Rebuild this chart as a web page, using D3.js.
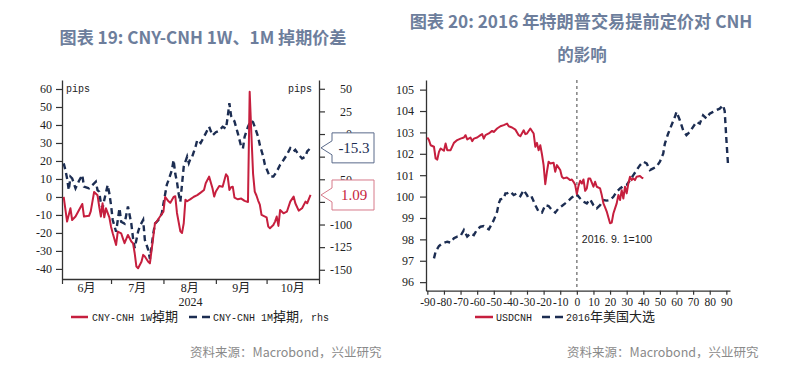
<!DOCTYPE html>
<html><head><meta charset="utf-8">
<script src="https://cdn.jsdelivr.net/npm/d3@7/dist/d3.min.js"></script>
<style>body{margin:0;background:#fff} text{white-space:pre}</style>
</head><body>
<svg id="c" width="800" height="383" xmlns="http://www.w3.org/2000/svg"></svg>
<script>
// ---------- DATA: chart 19 ----------
const w1Dates = ["2024-06-03","2024-06-05","2024-06-07","2024-06-08","2024-06-10","2024-06-14","2024-06-15","2024-06-18","2024-06-19","2024-06-21","2024-06-23","2024-06-24","2024-06-25","2024-06-26","2024-06-27","2024-06-28","2024-06-30",
"2024-07-01","2024-07-02","2024-07-04","2024-07-05","2024-07-07","2024-07-08","2024-07-09","2024-07-11","2024-07-13","2024-07-14","2024-07-15","2024-07-16","2024-07-17","2024-07-19","2024-07-20","2024-07-21","2024-07-23","2024-07-24","2024-07-26","2024-07-27","2024-07-28","2024-07-30",
"2024-08-01","2024-08-02","2024-08-04","2024-08-05","2024-08-07","2024-08-08","2024-08-09","2024-08-11","2024-08-12","2024-08-13","2024-08-14","2024-08-15","2024-08-17","2024-08-19","2024-08-21","2024-08-23","2024-08-25","2024-08-26","2024-08-28","2024-08-30","2024-08-31",
"2024-09-01","2024-09-03","2024-09-05","2024-09-07","2024-09-08","2024-09-09","2024-09-10","2024-09-11","2024-09-12","2024-09-14","2024-09-16","2024-09-18","2024-09-20","2024-09-21","2024-09-22","2024-09-23","2024-09-24","2024-09-25","2024-09-26","2024-09-27","2024-09-28",
"2024-10-01","2024-10-02","2024-10-03","2024-10-05","2024-10-06","2024-10-07","2024-10-08","2024-10-09","2024-10-11","2024-10-13","2024-10-15","2024-10-17","2024-10-18","2024-10-20","2024-10-22","2024-10-24","2024-10-25","2024-10-27"];
const w1Values = [0,-13.7,-6.3,-12.8,-10.9,-3.9,-10.9,-10.5,-8,2.8,1,-5.4,-10.9,-3.5,-11.3,-6.3,-11.3,
-16.5,-20.2,-26.7,-19.3,-20.2,-23,-25.7,-21.1,-24.8,-25.7,-31.3,-38.7,-39.6,-36,-32.2,-33.1,-36,-36.9,-22,-14.6,-13.7,-10.9,
-8.2,0,-2.4,-3.3,0,0.4,-8.9,-19.1,-20,-14.6,-1.5,-2.4,-1.2,0.1,1,2.4,3.9,7.6,11.3,4.8,0.2,
3,6.1,5.7,12.6,11.3,3.9,5.4,5.7,-0.4,-1.3,-0.9,-2.2,-2.8,58.5,35,13,3,0.8,-2,-4.3,-10,
-11.3,-16.5,-17.4,-15.6,-13.7,-10.9,-16.1,-7.3,-9.1,-8.2,-2.6,0.2,-3.5,-7.6,-6.3,-2.6,-3.5,1.09];

const m1Dates = ["2024-06-03","2024-06-04","2024-06-05","2024-06-06","2024-06-07","2024-06-08","2024-06-10","2024-06-12","2024-06-14","2024-06-15","2024-06-18","2024-06-20","2024-06-22","2024-06-23","2024-06-24","2024-06-25","2024-06-26","2024-06-27","2024-06-29","2024-06-30",
"2024-07-01","2024-07-02","2024-07-04","2024-07-05","2024-07-06","2024-07-07","2024-07-09","2024-07-11","2024-07-13","2024-07-14","2024-07-15","2024-07-17","2024-07-18","2024-07-20","2024-07-21","2024-07-23","2024-07-24","2024-07-26","2024-07-27","2024-07-29","2024-07-31",
"2024-08-01","2024-08-03","2024-08-04","2024-08-06","2024-08-07","2024-08-08","2024-08-09","2024-08-10","2024-08-11","2024-08-12","2024-08-13","2024-08-15","2024-08-16","2024-08-17","2024-08-18","2024-08-19","2024-08-20","2024-08-21","2024-08-23","2024-08-26","2024-08-28","2024-08-30",
"2024-09-01","2024-09-03","2024-09-05","2024-09-07","2024-09-08","2024-09-09","2024-09-10","2024-09-12","2024-09-14","2024-09-16","2024-09-17","2024-09-18","2024-09-20","2024-09-21","2024-09-22","2024-09-23","2024-09-24","2024-09-26","2024-09-27","2024-09-29","2024-09-30",
"2024-10-02","2024-10-03","2024-10-05","2024-10-07","2024-10-09","2024-10-11","2024-10-13","2024-10-15","2024-10-17","2024-10-18","2024-10-20","2024-10-22","2024-10-24","2024-10-25","2024-10-27"];
const m1Values = [-32.4,-39.8,-49,-61.9,-47.2,-49,-60,-51.9,-45.3,-58.2,-60,-56.4,-52.7,-61.9,-63.8,-76.6,-82.1,-72.9,-56.4,-65.6,
-78.5,-95,-108,-95,-82,-97,-99,-80,-99,-115,-126,-108,-102,-95,-117,-128,-138,-110,-99,-95,-88,
-77,-56,-51,-39.8,-28.7,-44,-53,-66,-75,-55,-36,-25,-32,-27,-25,-19.5,-14,-6.6,-10,0.7,8,-1.5,
2,3.7,8,6,19,34,20,14,0.7,-14,-16,-3,8,12,14.7,13,8,-3,-12,-25,-34,
-43,-47,-47,-41.6,-34,-28.7,-23,-15.6,-19.3,-17.5,-23,-27,-25,-19.3,-15.3];

const leftTicksL = [60,50,40,30,20,10,0,-10,-20,-30,-40];
const leftTicksR = [50,25,0,-25,-50,-75,-100,-125,-150];
const monthStarts = ["2024-06-02","2024-07-01","2024-08-01","2024-09-01","2024-10-01","2024-11-01"];
const monthLabels = ["6月","7月","8月","9月","10月"];
const yearLabel = "2024";
const title19 = "图表 19: CNY-CNH 1W、1M 掉期价差";
const legend19 = ["CNY-CNH 1W掉期", "CNY-CNH 1M掉期, rhs"];

// ---------- DATA: chart 20 ----------
const usdDays = [-90,-89,-88,-86,-85,-84,-83,-82,-80,-79,-78,-76,-74,-72,-70,-68,-67,-66,-64,-63,-62,-60,-58,-57,-56,-55,-53,-51,-50,-48,-46,-44,-42,-41,-39,-37,-35,-34,-32,-31,-30,-28,-26,-25,-24,-23,-22,-21,-20,-19,-18,-17,-16,-14,-13,-12,-10,-9,-8,-6,-4,-3,-2,-1,0,1,2,3,4,5,6,7,8,10,11,12,14,15,16,17,18,19,20,21,22,23,24,25,26,27,28,29,30,31,32,33,34,35,36,38,39,40];
const usdValues = [102.76,102.64,102.40,102.33,101.78,101.73,102.09,102.25,102.14,102.48,102.17,102.17,102.51,102.64,102.71,102.76,102.87,102.67,102.76,102.59,102.71,102.76,102.87,102.92,102.71,102.87,102.95,103.07,103.02,103.18,103.29,103.34,103.41,103.29,103.23,103.13,102.87,102.82,103.10,102.92,102.95,103.18,102.95,102.33,102.51,102.17,102.40,101.98,101.47,100.58,101.16,101.63,101.55,101.58,101.16,101.47,101.24,100.93,100.85,100.89,100.77,100.80,100.69,100.55,100.12,100.50,100.74,100.61,100.80,100.27,100.38,100.85,100.85,100.46,100.69,100.46,100.38,100.07,99.68,99.50,99.30,99.02,98.75,98.78,99.21,99.45,99.68,100.07,99.84,100.30,99.91,100.46,100.15,100.61,100.93,100.77,100.85,100.77,100.93,100.96,100.89,100.85];
const elecDays = [-86,-85,-83,-81,-78,-76,-74,-72,-70,-68,-66,-64,-62,-60,-58,-56,-54,-53,-51,-50,-48,-47,-46,-44,-43,-42,-40,-38,-36,-34,-32,-30,-29,-27,-25,-23,-21,-19,-17,-15,-13,-11,-9,-7,-5,-3,-1,0,2,4,6,8,10,12,14,16,18,20,22,24,26,28,30,32,34,36,38,40,42,44,46,48,50,52,53,55,57,59,60,62,64,66,68,70,72,74,76,78,80,82,84,86,88,89,90,91];
const elecValues = [97.11,97.43,97.69,97.81,97.89,97.85,98.05,98.13,98.16,98.44,98.13,98.28,98.20,98.47,98.59,98.62,98.51,98.47,98.75,98.90,99.29,99.68,99.87,99.91,100.15,100.15,100.23,100.07,100.15,100.02,100.30,100.07,99.91,99.96,99.60,99.29,99.25,99.60,99.56,99.37,99.25,99.45,99.56,99.68,99.81,99.96,100.07,100.1,99.91,99.76,99.68,99.87,99.60,99.45,99.60,99.84,99.81,99.84,99.99,100.23,100.38,100.49,100.54,100.77,101.00,101.24,101.47,101.63,101.55,101.24,101.32,101.40,101.63,102.01,102.48,102.95,103.34,103.72,103.96,103.57,103.10,102.87,103.02,103.26,103.49,103.41,103.80,103.65,103.88,103.96,104.04,104.11,104.27,104.0,102.7,101.5];
const rightYTicks = [96,97,98,99,100,101,102,103,104,105];
const rightXTicks = [-90,-80,-70,-60,-50,-40,-30,-20,-10,0,10,20,30,40,50,60,70,80,90];
const title20 = ["图表 20: 2016 年特朗普交易提前定价对 CNH", "的影响"];
const legend20 = ["USDCNH", "2016年美国大选"];
const baseNote = "2016. 9. 1=100";
const sourceText = "资料来源：Macrobond，兴业研究";

// ---------- STYLE ----------
const RED = "#c61f3e", NAVY = "#1c2d52", AX = "#333", TITLE = "#6d7e9c";
const SERIF = "'Liberation Serif','Times New Roman',serif";
const MONO = "'Liberation Mono','DejaVu Sans Mono',monospace";
const CJK = "'Noto Sans CJK SC','Noto Sans',sans-serif";
const parse = d3.timeParse("%Y-%m-%d");
const plain = d => String(d);
const svg = d3.select("#c");

function mixed(g, x, y, str, latinFont, latinSize, cjkSize, fill) {
  const t = g.append("text").attr("x", x).attr("y", y).attr("fill", fill);
  const re = /[\u3000-\u303f\u4e00-\u9fff\uff00-\uffef]/;
  str.split(/([\u3000-\u303f\u4e00-\u9fff\uff00-\uffef]+)/).filter(s => s).forEach(p => {
    const c = re.test(p);
    t.append("tspan").text(p).attr("font-family", c ? CJK : latinFont).attr("font-size", c ? cjkSize : latinSize);
  });
  return t;
}
function fitTitle(x, y, str, target) {
  const t = svg.append("text").attr("x", x).attr("y", y).attr("text-anchor", "middle")
    .attr("font-family", CJK).attr("font-weight", "bold").attr("font-size", 16).attr("fill", TITLE).text(str);
  const w = t.node().getComputedTextLength();
  if (target) t.attr("font-size", 16 * target / w);
  return t;
}
function styleAxis(g, fs) {
  g.select(".domain").attr("stroke", AX).attr("stroke-width", 1.3);
  g.selectAll(".tick line").attr("stroke", AX).attr("stroke-width", 1.2);
  g.selectAll("text").attr("font-family", SERIF).attr("font-size", fs || 12).attr("fill", "#222");
}

// ---------- CHART 19 ----------
const xL = d3.scaleTime().domain([parse("2024-06-02"), parse("2024-11-01")]).range([62, 319]);
const yL = d3.scaleLinear().domain([-45.6, 65]).range([279, 80]);
const yR = d3.scaleLinear().domain([-160.2, 59.7]).range([279, 80]);

fitTitle(203, 44, title19, 287);

const gl = svg.append("g").attr("transform", "translate(62,0)")
  .call(d3.axisLeft(yL).tickValues(leftTicksL).tickFormat(plain).tickSize(6).tickSizeOuter(0).tickPadding(4));
styleAxis(gl);
const gr = svg.append("g").attr("transform", "translate(319,0)")
  .call(d3.axisRight(yR).tickValues(leftTicksR).tickFormat(plain).tickSize(6).tickSizeOuter(0));
styleAxis(gr);
gr.selectAll("text").attr("text-anchor", "end").attr("x", 33);
const gb = svg.append("g").attr("transform", "translate(0,279)")
  .call(d3.axisBottom(xL).tickValues(monthStarts.map(parse)).tickSize(5).tickSizeOuter(0).tickFormat(""));
styleAxis(gb);

const ms = monthStarts.map(parse);
monthLabels.forEach((m, i) => {
  const cx = (xL(ms[i]) + xL(ms[i + 1])) / 2;
  const t = mixed(svg, cx, 292, m, SERIF, 12, 12, "#222");
  t.attr("text-anchor", "middle");
});
svg.append("text").attr("x", (xL(ms[0]) + xL(ms[5])) / 2).attr("y", 306).attr("text-anchor", "middle")
  .attr("font-family", SERIF).attr("font-size", 12).attr("fill", "#222").text(yearLabel);

svg.append("text").attr("x", 66).attr("y", 92).attr("font-family", MONO).attr("font-size", 10).attr("fill", "#222").text("pips");
svg.append("text").attr("x", 312).attr("y", 92).attr("text-anchor", "end").attr("font-family", MONO).attr("font-size", 10).attr("fill", "#222").text("pips");

const w1 = w1Dates.map((d, i) => [parse(d), w1Values[i]]);
const m1 = m1Dates.map((d, i) => [parse(d), m1Values[i]]);
svg.append("path").datum(m1).attr("fill", "none").attr("stroke", NAVY).attr("stroke-width", 2.4)
  .attr("stroke-dasharray", "6,4")
  .attr("d", d3.line().x(d => xL(d[0])).y(d => yR(d[1])));
svg.append("path").datum(w1).attr("fill", "none").attr("stroke", RED).attr("stroke-width", 2)
  .attr("stroke-linejoin", "round")
  .attr("d", d3.line().x(d => xL(d[0])).y(d => yL(d[1])));

function callout(yTip, label, stroke, color) {
  const x0 = 332, x1 = 374, h = 30, tip = 321;
  svg.append("path").attr("d", `M${x0},${yTip - h / 2}H${x1}V${yTip + h / 2}H${x0}V${yTip + 7}L${tip},${yTip}L${x0},${yTip - 7}Z`)
    .attr("fill", "#fff").attr("stroke", stroke).attr("stroke-width", 1);
  svg.append("text").attr("x", (x0 + x1) / 2 + 1).attr("y", yTip + 5).attr("text-anchor", "middle")
    .attr("font-family", SERIF).attr("font-size", 15).attr("fill", color).text(label);
}
const lastM = m1Values[m1Values.length - 1], lastW = w1Values[w1Values.length - 1];
callout(yR(lastM), String(lastM), "#5a6a8a", NAVY);
callout(yL(lastW), String(lastW), "#d77a8a", RED);

// legend 19
svg.append("line").attr("x1", 71).attr("x2", 88).attr("y1", 317).attr("y2", 317).attr("stroke", RED).attr("stroke-width", 2.5);
mixed(svg, 92, 321, legend19[0], MONO, 10, 13, "#222");
svg.append("line").attr("x1", 189).attr("x2", 210).attr("y1", 317).attr("y2", 317).attr("stroke", NAVY).attr("stroke-width", 2.5).attr("stroke-dasharray", "8,5");
mixed(svg, 213, 321, legend19[1], MONO, 10, 13, "#222");

// ---------- CHART 20 ----------
const x2 = d3.scaleLinear().domain([-90.8, 92.2]).range([426, 730]);
const y2 = d3.scaleLinear().domain([95.6, 105.45]).range([290.7, 80]);

fitTitle(581, 28, title20[0], 343);
fitTitle(582, 61, title20[1], null).attr("font-size", 16.5);

const g2l = svg.append("g").attr("transform", "translate(426,0)")
  .call(d3.axisLeft(y2).tickValues(rightYTicks).tickFormat(plain).tickSize(6).tickSizeOuter(0).tickPadding(6));
styleAxis(g2l);
const g2b = svg.append("g").attr("transform", "translate(0,290.7)")
  .call(d3.axisBottom(x2).tickValues(rightXTicks).tickFormat(plain).tickSize(4).tickSizeOuter(0).tickPadding(3));
styleAxis(g2b, 11.5);

svg.append("line").attr("x1", x2(0)).attr("x2", x2(0)).attr("y1", 80).attr("y2", 290.7)
  .attr("stroke", "#8a8a8a").attr("stroke-width", 1.6).attr("stroke-dasharray", "3,3");
svg.append("text").attr("x", x2(0) + 5).attr("y", 243).attr("font-family", "'Liberation Sans',Arial,sans-serif")
  .attr("font-size", 10.5).attr("fill", "#222").text(baseNote);

const usd = usdDays.map((d, i) => [d, usdValues[i]]);
const elec = elecDays.map((d, i) => [d, elecValues[i]]);
svg.append("path").datum(elec).attr("fill", "none").attr("stroke", NAVY).attr("stroke-width", 2.4)
  .attr("stroke-dasharray", "6,4")
  .attr("d", d3.line().x(d => x2(d[0])).y(d => y2(d[1])));
svg.append("path").datum(usd).attr("fill", "none").attr("stroke", RED).attr("stroke-width", 2)
  .attr("stroke-linejoin", "round")
  .attr("d", d3.line().x(d => x2(d[0])).y(d => y2(d[1])));

svg.append("line").attr("x1", 475).attr("x2", 493).attr("y1", 317).attr("y2", 317).attr("stroke", RED).attr("stroke-width", 2.5);
mixed(svg, 496, 321, legend20[0], MONO, 10, 13, "#222");
svg.append("line").attr("x1", 542).attr("x2", 563).attr("y1", 317).attr("y2", 317).attr("stroke", NAVY).attr("stroke-width", 2.5).attr("stroke-dasharray", "8,5");
mixed(svg, 566, 321, legend20[1], MONO, 10, 13, "#222");

// sources
[190, 567].forEach(x => svg.append("text").attr("x", x).attr("y", 357).attr("font-family", CJK)
  .attr("font-size", 12.5).attr("fill", "#8a8a8a").text(sourceText));
</script>
</body></html>
